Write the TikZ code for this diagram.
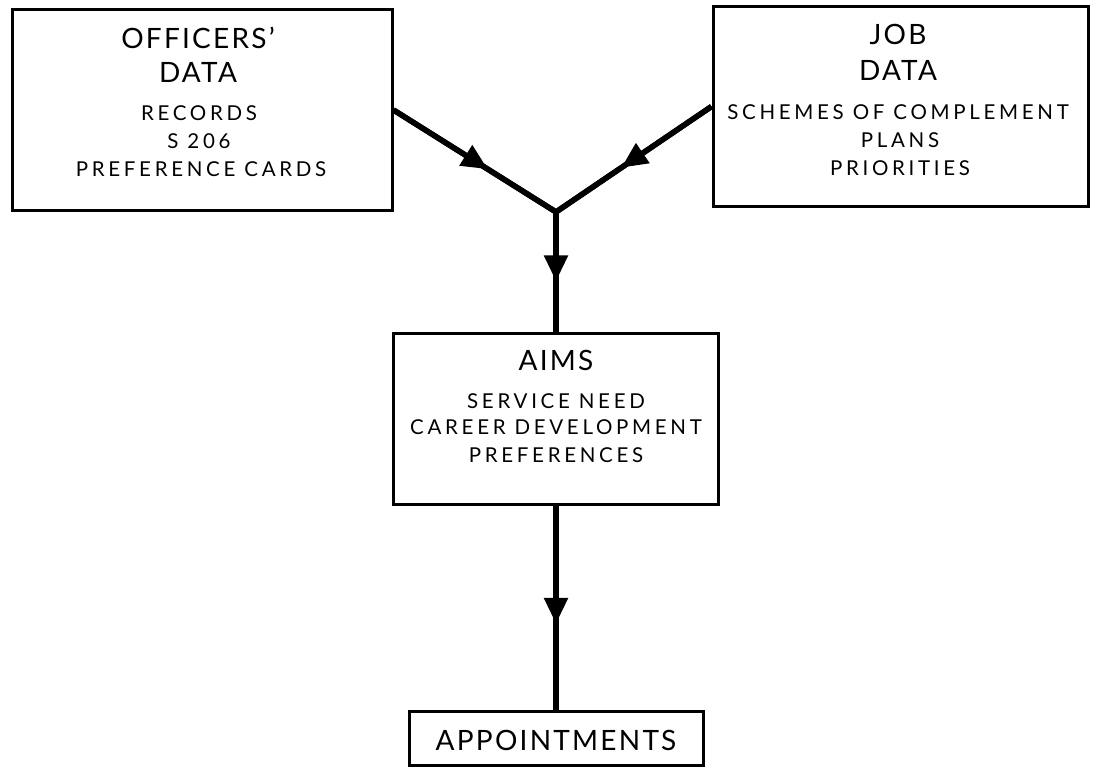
\documentclass[tikz,border=0pt]{standalone}
\usepackage{fontspec}
\setmainfont{Lato}
\usetikzlibrary{arrows.meta,decorations.markings}
\begin{document}
\begin{tikzpicture}[x=1pt,y=-1pt,
  box/.style={draw, line width=3pt, inner sep=0pt},
  title/.style={inner sep=0pt, font=\fontsize{28}{28}\selectfont\addfontfeature{LetterSpace=8}},
  item/.style={inner sep=0pt, font=\fontsize{20.5}{20.5}\selectfont\addfontfeature{LetterSpace=18}},
  link/.style={line width=5.5pt},
  flow/.style={link, postaction={decorate},
    decoration={markings, mark=at position 0.58 with {\arrow{Triangle[length=26pt,width=23pt]}}}}
]
\useasboundingbox (0,0) rectangle (1093,768);

% officers' data
\node[box, minimum width=380pt, minimum height=200pt] (off) at (202,110) {};
\node[title] (offt1) at (198,38) {OFFICERS'};
\node[title] (offt2) at (198,72) {DATA};
\node[item] (offi1) at (199,113) {RECORDS};
\node[item] (offi2) at (199,141) {S 206};
\node[item] (offi3) at (201,169) {PREFERENCE CARDS};

% job data
\node[box, minimum width=375pt, minimum height=199pt] (job) at (900.5,106.5) {};
\node[title] (jobt1) at (898,34) {JOB};
\node[title] (jobt2) at (898,70) {DATA};
\node[item] (jobi1) at (898,112) {SCHEMES OF COMPLEMENT};
\node[item] (jobi2) at (900,140) {PLANS};
\node[item] (jobi3) at (900,168) {PRIORITIES};

% aims
\node[box, minimum width=325pt, minimum height=171pt] (aims) at (556,418.5) {};
\node[title] (aimst) at (556,360) {AIMS};
\node[item] (aimsi1) at (556,401) {SERVICE NEED};
\node[item] (aimsi2) at (556,427) {CAREER DEVELOPMENT};
\node[item] (aimsi3) at (556,455) {PREFERENCES};

% appointments
\node[box, minimum width=294pt, minimum height=54pt] (app) at (556,738) {};
\node[title] (appt) at (556,740) {APPOINTMENTS};

% connectors
\coordinate (j) at (556,212);
\draw[link, line join=miter] (off.east) -- (j) -- (job.west);
\draw[flow] (off.east) -- (j);
\draw[flow] (job.west) -- (j);
\draw[flow] (j) -- (aims.north);
\draw[flow] (aims.south) -- (app.north);
\end{tikzpicture}
\end{document}
